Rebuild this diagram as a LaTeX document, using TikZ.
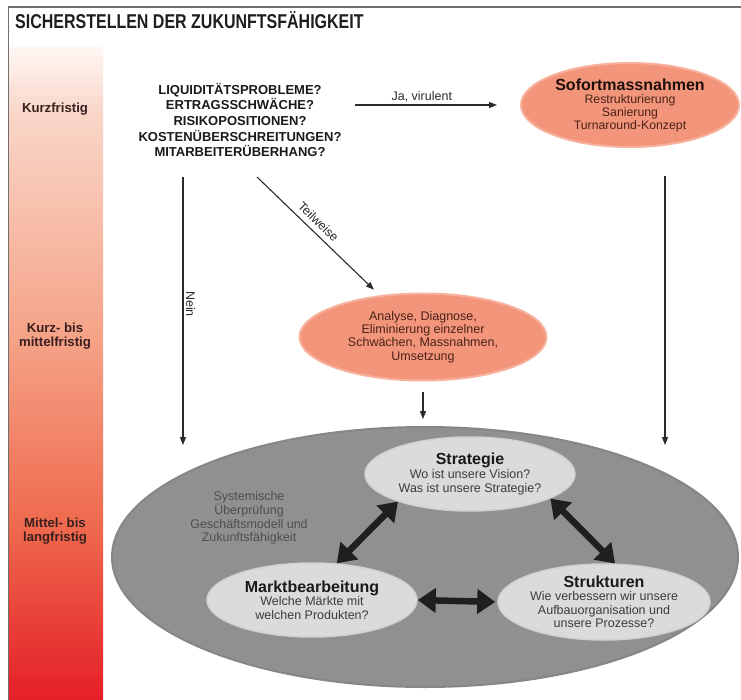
\documentclass[tikz,border=0pt]{standalone}
\usepackage{fontspec}
\setmainfont{Liberation Sans}
\newfontfamily\titlefont[FakeStretch=0.8]{Liberation Sans}
\usetikzlibrary{arrows.meta,shapes.geometric}
\definecolor{linec}{HTML}{2B2B2B}
\definecolor{framec}{HTML}{707070}
\definecolor{titlec}{HTML}{1E1E1E}
\definecolor{barc}{HTML}{3A1F1F}
\definecolor{qc}{HTML}{1A1A1A}
\definecolor{salmonin}{HTML}{F3957B}
\definecolor{salmonout}{HTML}{F7B19C}
\definecolor{salmtext}{HTML}{4A2218}
\definecolor{salmhead}{HTML}{1E0F0B}
\definecolor{litein}{HTML}{DADBDD}
\definecolor{liteout}{HTML}{D0D1D3}
\definecolor{grayin}{HTML}{8F9092}
\definecolor{grayout}{HTML}{858688}
\definecolor{headc}{HTML}{1A1A1A}
\definecolor{subc}{HTML}{3C3C3C}
\definecolor{sysc}{HTML}{4E4E4E}
\definecolor{barA}{HTML}{E51F28}
\definecolor{barB}{HTML}{EF6A4E}
\definecolor{barC}{HTML}{F5A58A}
\definecolor{barD}{HTML}{F9D6C8}
\definecolor{barE}{HTML}{FFF6F2}
\pgfdeclareverticalshading{barshade}{100bp}{color(0bp)=(barA); color(25bp)=(barA); color(38.5bp)=(barB); color(53.5bp)=(barC); color(70bp)=(barD); color(75bp)=(barE); color(100bp)=(barE)}
\begin{document}
\begin{tikzpicture}[x=1pt,y=-1pt,
  conn/.style={draw=linec, line width=1.1pt, -{Triangle[length=8pt,width=6pt]}},
  bigarr/.style={draw=black!88, line width=6.5pt, {Triangle[length=18pt,width=24pt]}-{Triangle[length=18pt,width=24pt]}},
  salm/.style={ellipse, fill=salmonin, draw=salmonout, line width=2pt, inner sep=0pt, align=center},
  lite/.style={ellipse, fill=litein, draw=liteout, line width=1.5pt, inner sep=0pt, align=center},
  barlbl/.style={font=\fontsize{13.2}{13.5}\selectfont\bfseries, text=barc, align=center},
  lbl/.style={font=\fontsize{12.5}{14}\selectfont, text=linec, inner sep=2.5pt}]
\useasboundingbox (0,0) rectangle (741,700);
\fill[white] (0,0) rectangle (741,700);
% time bar
\shade[shading=barshade] (9,48) rectangle (103,700);
\draw[framec, line width=1.5pt] (741,7) -- (8.5,7) -- (8.5,700);
\node[anchor=base west, inner sep=0pt, text=titlec,
  font=\titlefont\fontsize{20}{20}\selectfont\bfseries] (title) at (15,29) {SICHERSTELLEN DER ZUKUNFTSFÄHIGKEIT};
\node[barlbl] (kurz) at (55,109) {Kurzfristig};
\node[barlbl] (kurzmit) at (55,336) {Kurz- bis\\mittelfristig};
\node[barlbl] (mittel) at (55,531) {Mittel- bis\\langfristig};
% questions
\node[font=\fontsize{13}{15.6}\selectfont\bfseries, align=center, inner sep=6pt, text=qc] (q) at (240,120)
  {LIQUIDITÄTSPROBLEME?\\ERTRAGSSCHWÄCHE?\\RISIKOPOSITIONEN?\\KOSTENÜBERSCHREITUNGEN?\\MITARBEITERÜBERHANG?};
% immediate measures
\node[salm, minimum width=218pt, minimum height=84pt, font=\fontsize{12.3}{13}\selectfont, text=salmtext] (sofort) at (630,105)
  {{\fontsize{16}{17}\selectfont\bfseries\color{salmhead}Sofortmassnahmen}\\Restrukturierung\\Sanierung\\Turnaround-Konzept};
% analysis
\node[salm, minimum width=247pt, minimum height=87pt, font=\fontsize{12.5}{13.2}\selectfont, text=salmtext] (ana) at (423,337)
  {Analyse, Diagnose,\\Eliminierung einzelner\\Schwächen, Massnahmen,\\Umsetzung};
% big ellipse
\node[ellipse, fill=grayin, draw=grayout, line width=2pt, minimum width=626pt, minimum height=260pt, inner sep=0pt] (big) at (425,557) {};
\node[font=\fontsize{12.5}{13.7}\selectfont, text=sysc, align=center] (sys) at (249,518)
  {Systemische\\Überprüfung\\Geschäftsmodell und\\Zukunftsfähigkeit};
\node[lite, minimum width=210pt, minimum height=74pt, font=\fontsize{12.5}{14}\selectfont, text=subc] (strat) at (470,474)
  {{\fontsize{16}{17}\selectfont\bfseries\color{headc}Strategie}\\Wo ist unsere Vision?\\Was ist unsere Strategie?};
\node[lite, minimum width=210pt, minimum height=74pt, font=\fontsize{12.5}{13.5}\selectfont, text=subc] (markt) at (312,600)
  {{\fontsize{16}{17}\selectfont\bfseries\color{headc}Marktbearbeitung}\\Welche Märkte mit\\welchen Produkten?};
\node[lite, minimum width=212pt, minimum height=76pt, font=\fontsize{12.5}{13.5}\selectfont, text=subc] (struk) at (604,602)
  {{\fontsize{16}{17}\selectfont\bfseries\color{headc}Strukturen}\\Wie verbessern wir unsere\\Aufbauorganisation und\\unsere Prozesse?};
% thick arrows
\draw[bigarr] (markt.56) -- (strat.201);
\draw[bigarr] (strat.-17) -- (struk.74);
\draw[bigarr, shorten >=2pt] (markt.east) -- (struk.west);
% connectors
\coordinate (neinend) at (183,445);
\coordinate (rightend) at (665,445);
\coordinate (twstart) at (257,177);
\draw[conn, shorten <=7.5pt, shorten >=23pt] (q.east |- sofort.west) -- (sofort.west)
  node[lbl, pos=0.43, above] (ja) {Ja, virulent};
\draw[conn, shorten <=14pt] (q.south -| neinend) -- (neinend)
  node[lbl, midway, rotate=-90, anchor=south] (nein) {Nein};
\draw[conn, shorten <=28pt] (sofort.south -| rightend) -- (rightend);
\draw[conn, shorten >=8pt] (twstart) -- (ana)
  node[lbl, pos=0.44, sloped, above=3pt] (tw) {Teilweise};
\draw[conn, shorten <=10pt, shorten >=7pt] (ana.south) -- (ana.south |- big.north);
\end{tikzpicture}
\end{document}
